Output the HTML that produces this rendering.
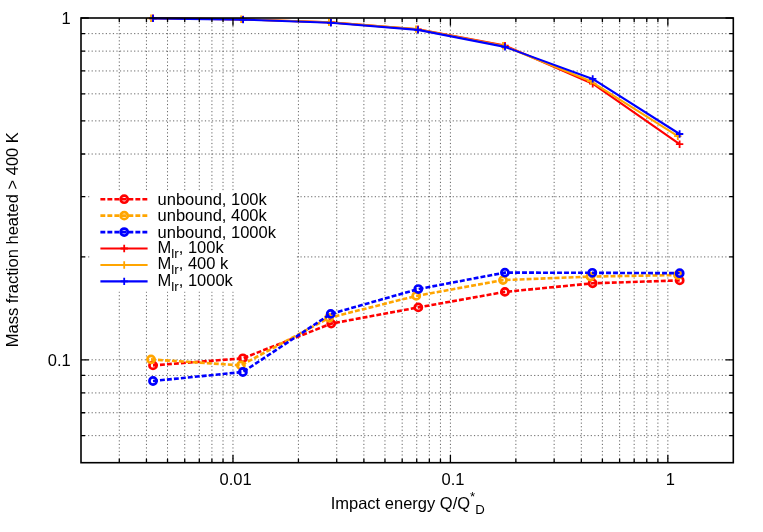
<!DOCTYPE html>
<html><head><meta charset="utf-8"><title>chart</title>
<style>html,body{margin:0;padding:0;background:#fff;width:763px;height:532px;overflow:hidden}
body{position:relative;font-family:"Liberation Sans",sans-serif}</style></head>
<body>
<svg width="763" height="532" viewBox="0 0 763 532" style="position:absolute;left:0;top:0">
<rect x="0" y="0" width="763" height="532" fill="#ffffff"/>
<g stroke="#666666" stroke-width="1.0" stroke-dasharray="1.2 2.34" fill="none">
<path d="M119.29 462.7 V18"/>
<path d="M146.45 462.7 V18"/>
<path d="M167.53 462.7 V18"/>
<path d="M184.74 462.7 V18"/>
<path d="M199.3 462.7 V18"/>
<path d="M211.91 462.7 V18"/>
<path d="M223.03 462.7 V18"/>
<path d="M298.43 462.7 V18"/>
<path d="M336.72 462.7 V18"/>
<path d="M363.89 462.7 V18"/>
<path d="M384.96 462.7 V18"/>
<path d="M402.18 462.7 V18"/>
<path d="M416.73 462.7 V18"/>
<path d="M429.34 462.7 V18"/>
<path d="M440.46 462.7 V18"/>
<path d="M515.87 462.7 V18"/>
<path d="M554.15 462.7 V18"/>
<path d="M581.32 462.7 V18"/>
<path d="M602.39 462.7 V18"/>
<path d="M619.61 462.7 V18"/>
<path d="M634.17 462.7 V18"/>
<path d="M646.77 462.7 V18"/>
<path d="M657.9 462.7 V18"/>
<path d="M232.98 462.7 V18"/>
<path d="M450.41 462.7 V18"/>
<path d="M667.85 462.7 V18"/>
<path d="M81 435.64 H733.3"/>
<path d="M81 412.75 H733.3"/>
<path d="M81 392.93 H733.3"/>
<path d="M81 375.45 H733.3"/>
<path d="M81 256.91 H733.3"/>
<path d="M81 196.72 H733.3"/>
<path d="M81 154.02 H733.3"/>
<path d="M81 120.89 H733.3"/>
<path d="M81 93.83 H733.3"/>
<path d="M81 70.95 H733.3"/>
<path d="M81 51.12 H733.3"/>
<path d="M81 33.64 H733.3"/>
<path d="M81 359.81 H733.3"/>
</g>
<rect x="90" y="191" width="205" height="100.5" fill="#ffffff"/>
<path d="M153 365.4 L242.9 358.3 L331.2 323.6 L418.3 307.4 L504.9 291.9 L592.6 283.3 L679.7 280.4" fill="none" stroke="#ff0000" stroke-width="2.6" stroke-dasharray="4.9 2.1"/>
<circle cx="153" cy="365.4" r="3.55" fill="none" stroke="#ff0000" stroke-width="2.7"/>
<circle cx="242.9" cy="358.3" r="3.55" fill="none" stroke="#ff0000" stroke-width="2.7"/>
<circle cx="331.2" cy="323.6" r="3.55" fill="none" stroke="#ff0000" stroke-width="2.7"/>
<circle cx="418.3" cy="307.4" r="3.55" fill="none" stroke="#ff0000" stroke-width="2.7"/>
<circle cx="504.9" cy="291.9" r="3.55" fill="none" stroke="#ff0000" stroke-width="2.7"/>
<circle cx="592.6" cy="283.3" r="3.55" fill="none" stroke="#ff0000" stroke-width="2.7"/>
<circle cx="679.7" cy="280.4" r="3.55" fill="none" stroke="#ff0000" stroke-width="2.7"/>
<path d="M151 359.4 L240.9 365.4 L329.1 317.8 L416.2 295.9 L503 280.1 L590.5 276.6 L678 275" fill="none" stroke="#ffa500" stroke-width="2.6" stroke-dasharray="4.9 2.1"/>
<circle cx="151" cy="359.4" r="3.55" fill="none" stroke="#ffa500" stroke-width="2.7"/>
<circle cx="240.9" cy="365.4" r="3.55" fill="none" stroke="#ffa500" stroke-width="2.7"/>
<circle cx="329.1" cy="317.8" r="3.55" fill="none" stroke="#ffa500" stroke-width="2.7"/>
<circle cx="416.2" cy="295.9" r="3.55" fill="none" stroke="#ffa500" stroke-width="2.7"/>
<circle cx="503" cy="280.1" r="3.55" fill="none" stroke="#ffa500" stroke-width="2.7"/>
<circle cx="590.5" cy="276.6" r="3.55" fill="none" stroke="#ffa500" stroke-width="2.7"/>
<circle cx="678" cy="275" r="3.55" fill="none" stroke="#ffa500" stroke-width="2.7"/>
<path d="M153 381 L242.9 372 L330.7 313.9 L418.3 289.05 L504.9 272.6 L592.3 272.8 L679.7 273.2" fill="none" stroke="#0000ff" stroke-width="2.6" stroke-dasharray="4.9 2.1"/>
<circle cx="153" cy="381" r="3.55" fill="none" stroke="#0000ff" stroke-width="2.7"/>
<circle cx="242.9" cy="372" r="3.55" fill="none" stroke="#0000ff" stroke-width="2.7"/>
<circle cx="330.7" cy="313.9" r="3.55" fill="none" stroke="#0000ff" stroke-width="2.7"/>
<circle cx="418.3" cy="289.05" r="3.55" fill="none" stroke="#0000ff" stroke-width="2.7"/>
<circle cx="504.9" cy="272.6" r="3.55" fill="none" stroke="#0000ff" stroke-width="2.7"/>
<circle cx="592.3" cy="272.8" r="3.55" fill="none" stroke="#0000ff" stroke-width="2.7"/>
<circle cx="679.7" cy="273.2" r="3.55" fill="none" stroke="#0000ff" stroke-width="2.7"/>
<path d="M153 18.3 L243.1 19.4 L330.9 22.4 L418 29.3 L505 45.6 L592.7 83.7 L679.6 144.2" fill="none" stroke="#ff0000" stroke-width="2.1" stroke-linejoin="round"/>
<path d="M149.3 18.3 h7.4 M153 14.6 v7.4" fill="none" stroke="#ff0000" stroke-width="1.8"/>
<path d="M239.4 19.4 h7.4 M243.1 15.7 v7.4" fill="none" stroke="#ff0000" stroke-width="1.8"/>
<path d="M327.2 22.4 h7.4 M330.9 18.7 v7.4" fill="none" stroke="#ff0000" stroke-width="1.8"/>
<path d="M414.3 29.3 h7.4 M418 25.6 v7.4" fill="none" stroke="#ff0000" stroke-width="1.8"/>
<path d="M501.3 45.6 h7.4 M505 41.9 v7.4" fill="none" stroke="#ff0000" stroke-width="1.8"/>
<path d="M589 83.7 h7.4 M592.7 80 v7.4" fill="none" stroke="#ff0000" stroke-width="1.8"/>
<path d="M675.9 144.2 h7.4 M679.6 140.5 v7.4" fill="none" stroke="#ff0000" stroke-width="1.8"/>
<path d="M151 18.3 L241.1 19.3 L328.9 22.2 L416 29.1 L503 45.7 L590.8 81.3 L677.8 136.2" fill="none" stroke="#ffa500" stroke-width="2.1" stroke-linejoin="round"/>
<path d="M147.3 18.3 h7.4 M151 14.6 v7.4" fill="none" stroke="#ffa500" stroke-width="1.8"/>
<path d="M237.4 19.3 h7.4 M241.1 15.6 v7.4" fill="none" stroke="#ffa500" stroke-width="1.8"/>
<path d="M325.2 22.2 h7.4 M328.9 18.5 v7.4" fill="none" stroke="#ffa500" stroke-width="1.8"/>
<path d="M412.3 29.1 h7.4 M416 25.4 v7.4" fill="none" stroke="#ffa500" stroke-width="1.8"/>
<path d="M499.3 45.7 h7.4 M503 42 v7.4" fill="none" stroke="#ffa500" stroke-width="1.8"/>
<path d="M587.1 81.3 h7.4 M590.8 77.6 v7.4" fill="none" stroke="#ffa500" stroke-width="1.8"/>
<path d="M674.1 136.2 h7.4 M677.8 132.5 v7.4" fill="none" stroke="#ffa500" stroke-width="1.8"/>
<path d="M153 18.4 L243.1 19.6 L330.9 22.8 L418 29.9 L505 46.9 L592.7 78.9 L679.6 134" fill="none" stroke="#0000ff" stroke-width="2.1" stroke-linejoin="round"/>
<path d="M149.3 18.4 h7.4 M153 14.7 v7.4" fill="none" stroke="#0000ff" stroke-width="1.8"/>
<path d="M239.4 19.6 h7.4 M243.1 15.9 v7.4" fill="none" stroke="#0000ff" stroke-width="1.8"/>
<path d="M327.2 22.8 h7.4 M330.9 19.1 v7.4" fill="none" stroke="#0000ff" stroke-width="1.8"/>
<path d="M414.3 29.9 h7.4 M418 26.2 v7.4" fill="none" stroke="#0000ff" stroke-width="1.8"/>
<path d="M501.3 46.9 h7.4 M505 43.2 v7.4" fill="none" stroke="#0000ff" stroke-width="1.8"/>
<path d="M589 78.9 h7.4 M592.7 75.2 v7.4" fill="none" stroke="#0000ff" stroke-width="1.8"/>
<path d="M675.9 134 h7.4 M679.6 130.3 v7.4" fill="none" stroke="#0000ff" stroke-width="1.8"/>
<path d="M100.4 199.2 H147.6" fill="none" stroke="#ff0000" stroke-width="2.6" stroke-dasharray="4.9 2.1"/>
<circle cx="124.2" cy="199.2" r="3.55" fill="none" stroke="#ff0000" stroke-width="2.7"/>
<path d="M100.4 215.64 H147.6" fill="none" stroke="#ffa500" stroke-width="2.6" stroke-dasharray="4.9 2.1"/>
<circle cx="124.2" cy="215.64" r="3.55" fill="none" stroke="#ffa500" stroke-width="2.7"/>
<path d="M100.4 232.08 H147.6" fill="none" stroke="#0000ff" stroke-width="2.6" stroke-dasharray="4.9 2.1"/>
<circle cx="124.2" cy="232.08" r="3.55" fill="none" stroke="#0000ff" stroke-width="2.7"/>
<path d="M100.4 248.52 H147.6" fill="none" stroke="#ff0000" stroke-width="2.1"/>
<path d="M120.5 248.52 h7.4 M124.2 244.82 v7.4" fill="none" stroke="#ff0000" stroke-width="1.8"/>
<path d="M100.4 264.96 H147.6" fill="none" stroke="#ffa500" stroke-width="2.1"/>
<path d="M120.5 264.96 h7.4 M124.2 261.26 v7.4" fill="none" stroke="#ffa500" stroke-width="1.8"/>
<path d="M100.4 281.4 H147.6" fill="none" stroke="#0000ff" stroke-width="2.1"/>
<path d="M120.5 281.4 h7.4 M124.2 277.7 v7.4" fill="none" stroke="#0000ff" stroke-width="1.8"/>
<g stroke="#000" stroke-width="1.3" fill="none">
<path d="M119.29 462.7 v-4 M119.29 18 v4"/>
<path d="M146.45 462.7 v-4 M146.45 18 v4"/>
<path d="M167.53 462.7 v-4 M167.53 18 v4"/>
<path d="M184.74 462.7 v-4 M184.74 18 v4"/>
<path d="M199.3 462.7 v-4 M199.3 18 v4"/>
<path d="M211.91 462.7 v-4 M211.91 18 v4"/>
<path d="M223.03 462.7 v-4 M223.03 18 v4"/>
<path d="M298.43 462.7 v-4 M298.43 18 v4"/>
<path d="M336.72 462.7 v-4 M336.72 18 v4"/>
<path d="M363.89 462.7 v-4 M363.89 18 v4"/>
<path d="M384.96 462.7 v-4 M384.96 18 v4"/>
<path d="M402.18 462.7 v-4 M402.18 18 v4"/>
<path d="M416.73 462.7 v-4 M416.73 18 v4"/>
<path d="M429.34 462.7 v-4 M429.34 18 v4"/>
<path d="M440.46 462.7 v-4 M440.46 18 v4"/>
<path d="M515.87 462.7 v-4 M515.87 18 v4"/>
<path d="M554.15 462.7 v-4 M554.15 18 v4"/>
<path d="M581.32 462.7 v-4 M581.32 18 v4"/>
<path d="M602.39 462.7 v-4 M602.39 18 v4"/>
<path d="M619.61 462.7 v-4 M619.61 18 v4"/>
<path d="M634.17 462.7 v-4 M634.17 18 v4"/>
<path d="M646.77 462.7 v-4 M646.77 18 v4"/>
<path d="M657.9 462.7 v-4 M657.9 18 v4"/>
<path d="M232.98 462.7 v-7.8 M232.98 18 v7.8"/>
<path d="M450.41 462.7 v-7.8 M450.41 18 v7.8"/>
<path d="M667.85 462.7 v-7.8 M667.85 18 v7.8"/>
<path d="M81 435.64 h4 M733.3 435.64 h-4"/>
<path d="M81 412.75 h4 M733.3 412.75 h-4"/>
<path d="M81 392.93 h4 M733.3 392.93 h-4"/>
<path d="M81 375.45 h4 M733.3 375.45 h-4"/>
<path d="M81 256.91 h4 M733.3 256.91 h-4"/>
<path d="M81 196.72 h4 M733.3 196.72 h-4"/>
<path d="M81 154.02 h4 M733.3 154.02 h-4"/>
<path d="M81 120.89 h4 M733.3 120.89 h-4"/>
<path d="M81 93.83 h4 M733.3 93.83 h-4"/>
<path d="M81 70.95 h4 M733.3 70.95 h-4"/>
<path d="M81 51.12 h4 M733.3 51.12 h-4"/>
<path d="M81 33.64 h4 M733.3 33.64 h-4"/>
<path d="M81 359.81 h7.8 M733.3 359.81 h-7.8"/>
<path d="M81 18 h7.8 M733.3 18 h-7.8"/>
</g>
<rect x="81.0" y="18.0" width="652.3" height="444.7" fill="none" stroke="#000" stroke-width="1.6"/>
</svg>
<svg width="763" height="532" viewBox="0 0 763 532" style="position:absolute;left:0;top:0;will-change:transform">
<g font-family="'Liberation Sans', sans-serif" font-size="16.5" fill="#000">
<text x="157.6" y="204.8">unbound, 100k</text>
<text x="157.6" y="221.24">unbound, 400k</text>
<text x="157.6" y="237.68">unbound, 1000k</text>
<text x="157.5" y="252.67">M<tspan font-size="13.5" dy="5.25">lr</tspan><tspan dy="-5.25">, 100k</tspan></text>
<text x="157.5" y="269.11">M<tspan font-size="13.5" dy="5.25">lr</tspan><tspan dy="-5.25">, 400 k</tspan></text>
<text x="157.5" y="285.55">M<tspan font-size="13.5" dy="5.25">lr</tspan><tspan dy="-5.25">, 1000k</tspan></text>
<text x="70.8" y="23.8" text-anchor="end">1</text>
<text x="70.8" y="365.6" text-anchor="end">0.1</text>
<text x="235.58" y="485" text-anchor="middle">0.01</text>
<text x="453.01" y="485" text-anchor="middle">0.1</text>
<text x="670.45" y="485" text-anchor="middle">1</text>
<text x="330.7" y="508.9">Impact energy Q/Q<tspan font-size="13.2" dy="-8.4">*</tspan><tspan font-size="13.2" dy="13.1">D</tspan></text>
<text transform="translate(18.4,239.7) rotate(-90)" text-anchor="middle">Mass fraction heated &gt; 400 K</text>
</g>
</svg>
</body></html>
